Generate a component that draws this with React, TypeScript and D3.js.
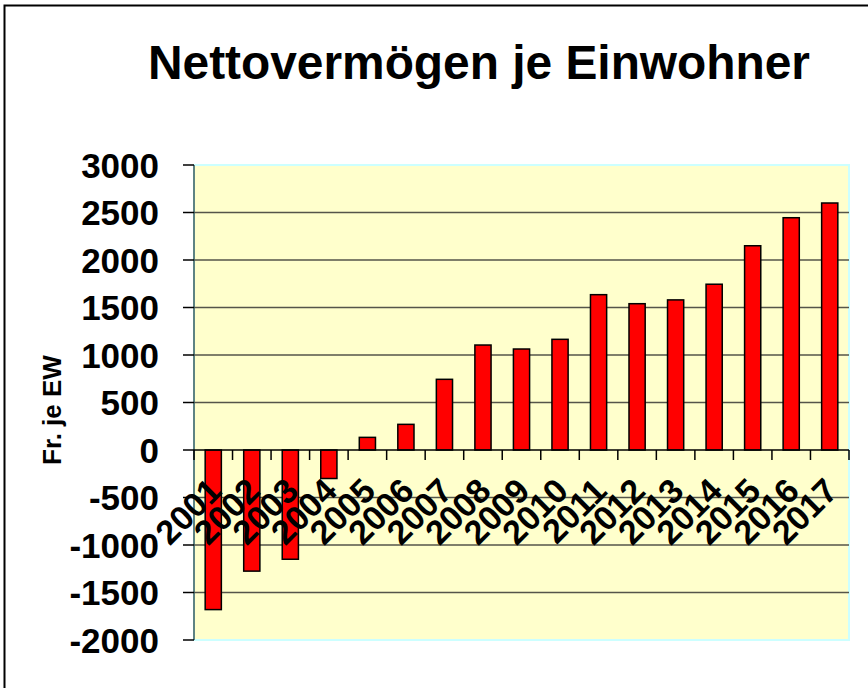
import { useEffect, useRef } from "react";
import * as d3 from "d3";

// Jahre und Nettovermögen je Einwohner (Fr.)
const years = ["2001", "2002", "2003", "2004", "2005", "2006", "2007", "2008", "2009",
  "2010", "2011", "2012", "2013", "2014", "2015", "2016", "2017"];
const values = [-1680, -1275, -1150, -300, 133, 270, 744, 1105, 1063,
  1165, 1635, 1540, 1580, 1745, 2150, 2445, 2600];
const yTicks = [3000, 2500, 2000, 1500, 1000, 500, 0, -500, -1000, -1500, -2000];

const title = "Nettovermögen je Einwohner";
const yTitle = "Fr. je EW";

const App = () => {
  const ref = useRef<SVGSVGElement>(null);

  useEffect(() => {
    const svg = d3.select(ref.current);
    svg.selectAll("*").remove();
    const font = "'Liberation Sans', Arial, sans-serif";

    const left = 194, right = 849, top = 165, bottom = 640;

    const x = d3.scaleBand()
      .domain(years)
      .range([left, right])
      .paddingInner(0.58)
      .paddingOuter(0.29);
    const y = d3.scaleLinear()
      .domain([-2000, 3000])
      .range([bottom, top]);

    // outer frame
    svg.append("rect")
      .attr("x", 4.5).attr("y", 5.5)
      .attr("width", 900).attr("height", 800)
      .attr("fill", "white")
      .attr("stroke", "black")
      .attr("stroke-width", 2);

    svg.append("text")
      .attr("x", 148).attr("y", 79)
      .attr("font-family", font)
      .attr("font-weight", "bold")
      .attr("font-size", 48)
      .attr("textLength", 662)
      .attr("lengthAdjust", "spacingAndGlyphs")
      .text(title);

    // plot area
    svg.append("rect")
      .attr("x", left).attr("y", top)
      .attr("width", right - left).attr("height", bottom - top)
      .attr("fill", "#FFFFCC")
      .attr("stroke", "#CCFFFF")
      .attr("stroke-width", 2);

    // gridlines
    svg.append("g")
      .selectAll("line")
      .data(yTicks.filter((t) => t !== 3000 && t !== -2000 && t !== 0))
      .enter()
      .append("line")
      .attr("x1", left).attr("x2", right)
      .attr("y1", (d) => y(d)).attr("y2", (d) => y(d))
      .attr("stroke", "#55554a")
      .attr("stroke-width", 1.5);

    // y axis
    svg.append("line")
      .attr("x1", left).attr("x2", left)
      .attr("y1", top).attr("y2", bottom)
      .attr("stroke", "#3a5a5a")
      .attr("stroke-width", 1.5);
    const yg = svg.append("g");
    yg.selectAll("line")
      .data(yTicks)
      .enter()
      .append("line")
      .attr("x1", left - 11).attr("x2", left)
      .attr("y1", (d) => y(d)).attr("y2", (d) => y(d))
      .attr("stroke", "black")
      .attr("stroke-width", 1.5);
    yg.selectAll("text")
      .data(yTicks)
      .enter()
      .append("text")
      .attr("x", 159)
      .attr("y", (d) => y(d) + 12.5)
      .attr("text-anchor", "end")
      .attr("font-family", font)
      .attr("font-weight", "bold")
      .attr("font-size", 35)
      .text((d) => String(d));

    svg.append("text")
      .attr("transform", "translate(61,410) rotate(-90)")
      .attr("text-anchor", "middle")
      .attr("font-family", font)
      .attr("font-weight", "bold")
      .attr("font-size", 26)
      .text(yTitle);

    // bars
    svg.append("g")
      .selectAll("rect")
      .data(values)
      .enter()
      .append("rect")
      .attr("x", (d, i) => x(years[i])!)
      .attr("y", (d) => y(Math.max(0, d)))
      .attr("width", x.bandwidth())
      .attr("height", (d) => Math.abs(y(d) - y(0)))
      .attr("fill", "#FF0000")
      .attr("stroke", "black")
      .attr("stroke-width", 1.5);

    // x axis at zero
    const step = x.step();
    svg.append("line")
      .attr("x1", left).attr("x2", right)
      .attr("y1", y(0)).attr("y2", y(0))
      .attr("stroke", "black")
      .attr("stroke-width", 1.5);
    svg.append("g")
      .selectAll("line")
      .data(d3.range(years.length + 1))
      .enter()
      .append("line")
      .attr("x1", (i) => left + i * step).attr("x2", (i) => left + i * step)
      .attr("y1", y(0)).attr("y2", y(0) + 10)
      .attr("stroke", "black")
      .attr("stroke-width", 1.5);

    svg.append("g")
      .selectAll("text")
      .data(years)
      .enter()
      .append("text")
      .attr("transform", (d) => {
        const cx = x(d)! + x.bandwidth() / 2;
        return `translate(${cx + 10},${y(0) + 43}) rotate(-45)`;
      })
      .attr("text-anchor", "end")
      .attr("font-family", font)
      .attr("font-weight", "bold")
      .attr("font-size", 34)
      .text((d) => d);
  }, []);

  return (
    <svg
      ref={ref}
      width={868}
      height={688}
      style={{ position: "absolute", left: 0, top: 0 }}
    />
  );
};

export default App;
